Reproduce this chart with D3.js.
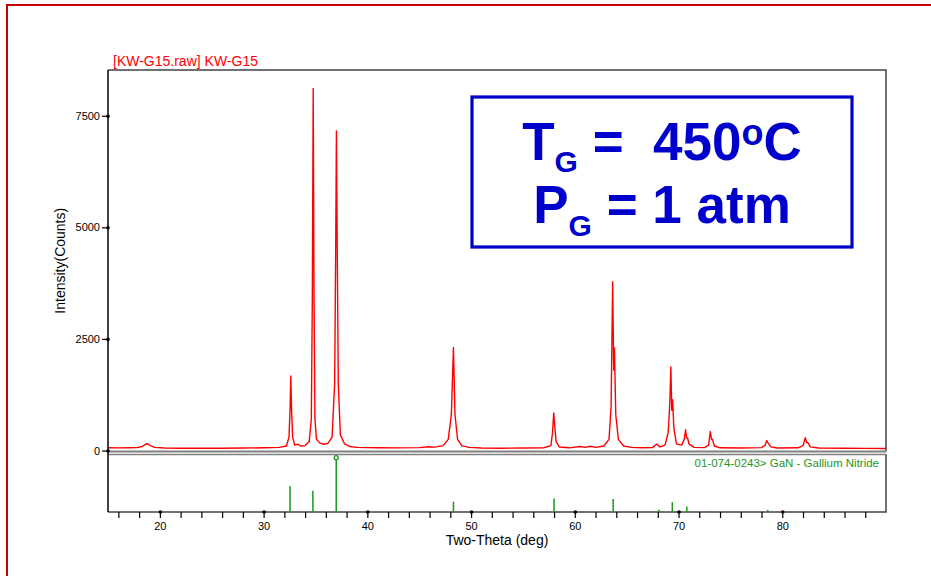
<!DOCTYPE html>
<html>
<head>
<meta charset="utf-8">
<script src="https://cdn.jsdelivr.net/npm/d3@7"></script>
<style>
body{margin:0;background:#fff;}
svg{display:block;font-family:"Liberation Sans",Arial,sans-serif;}
</style>
</head>
<body>
<svg width="931" height="576"></svg>
<script>
// scan: [two-theta, counts]
var scanPoints = [
	[15.0,62],[16.0,58],[17.0,60],[17.8,65],[18.3,90],[18.6,140],[18.8,150],[19.1,110],[19.5,70],[20.5,55],
	[22,52],[24,50],[26,52],[28,55],[30,60],[31.5,70],[32.2,100],[32.45,300],[32.55,900],[32.62,1670],
	[32.7,900],[32.8,300],[33.0,120],[33.3,140],[33.6,100],[34.0,110],[34.4,200],[34.6,700],[34.7,3500],[34.78,8110],
	[34.86,3500],[34.95,700],[35.1,250],[35.4,170],[35.8,140],[36.2,160],[36.6,300],[36.85,1500],[36.95,4500],[37.02,7160],
	[37.1,4500],[37.2,1500],[37.4,350],[37.8,150],[38.3,90],[39,70],[41,60],[43,58],[45,65],[45.9,85],
	[46.5,75],[47.3,110],[47.8,250],[48.1,800],[48.3,2310],[48.45,800],[48.7,250],[49.1,110],[49.8,70],[51,55],
	[53,52],[55,55],[57,62],[57.7,110],[57.85,400],[57.97,840],[58.08,510],[58.2,200],[58.5,80],[59.5,60],
	[60.5,90],[61,70],[61.5,95],[62,70],[62.8,100],[63.3,250],[63.5,1000],[63.65,3780],[63.75,1800],[63.82,2300],
	[63.95,800],[64.2,250],[64.7,100],[65.5,70],[66.5,60],[67.5,65],[67.9,145],[68.2,80],[68.7,120],[69.0,400],
	[69.15,1000],[69.26,1870],[69.35,900],[69.43,1140],[69.55,500],[69.8,150],[70.3,120],[70.55,250],[70.68,465],[70.78,280],
	[70.88,280],[71.0,150],[71.5,70],[72.5,65],[72.9,120],[73.06,425],[73.18,250],[73.27,255],[73.45,100],[74,60],
	[76,55],[78,65],[78.35,120],[78.5,225],[78.65,160],[78.9,80],[79.5,55],[81.5,60],[82.0,110],[82.22,285],
	[82.35,180],[82.45,180],[82.7,80],[83.5,55],[86,50],[88,48],[90,45]
];

// GaN reference sticks: [two-theta, relative intensity]
var refPeaks = [
	[32.55,48],[34.75,39],[37.0,100],[48.3,19],[58.0,25],[63.7,24],
	[68.1,4],[69.4,18],[70.8,10],[73.2,2],[78.6,4],[82.4,2]
];

var yTickValues = [0, 2500, 5000, 7500];
var xTickLabels = [20, 30, 40, 50, 60, 70, 80];
var chartTitle = "[KW-G15.raw] KW-G15";
var refLabel = "01-074-0243> GaN - Gallium Nitride";
var xTitle = "Two-Theta (deg)";
var yTitle = "Intensity(Counts)";

var L = 108, R = 886, T = 70, mainB = 451.5, refT = 454.5, refB = 512;

var mySvg = d3.select("svg");

var x = d3.scaleLinear().domain([15, 90]).range([L, R]);
var y = d3.scaleLinear().domain([0, 8525]).range([450.5, T]);
var yRef = d3.scaleLinear().domain([0, 100]).range([refB, 457.7]);

// red page frame
mySvg.append("rect")
	.attr("x", 7).attr("y", 5).attr("width", 1000).attr("height", 1000)
	.attr("fill", "none").attr("stroke", "#c80000").attr("stroke-width", 2);

mySvg.append("defs").append("clipPath").attr("id", "clip")
	.append("rect").attr("x", L).attr("y", T).attr("width", R - L).attr("height", mainB - T);

// scan line
var line = d3.line().x(d => x(d[0])).y(d => y(d[1]));
mySvg.append("path")
	.datum(scanPoints)
	.attr("clip-path", "url(#clip)")
	.attr("d", line)
	.attr("fill", "none")
	.attr("stroke", "#ff0000")
	.attr("stroke-width", 1.4)
	.attr("stroke-linejoin", "round");

// panel borders
mySvg.append("path")
	.attr("d", "M" + L + "," + T + "H" + R + "V" + mainB)
	.attr("fill", "none").attr("stroke", "#444").attr("stroke-width", 1.5);
mySvg.append("line")
	.attr("x1", L).attr("x2", R).attr("y1", mainB).attr("y2", mainB)
	.attr("stroke", "#808080").attr("stroke-width", 2);
mySvg.append("line")
	.attr("x1", L).attr("x2", R).attr("y1", refT).attr("y2", refT)
	.attr("stroke", "#808080").attr("stroke-width", 1.5);
mySvg.append("path")
	.attr("d", "M" + R + "," + refT + "V" + refB + "H" + L)
	.attr("fill", "none").attr("stroke", "#444").attr("stroke-width", 1.5);
mySvg.append("line")
	.attr("x1", L).attr("x2", L).attr("y1", T).attr("y2", refB)
	.attr("stroke", "#000").attr("stroke-width", 1.5);

// reference sticks
var green = "#1e961e";
mySvg.append("g").selectAll("line")
	.data(refPeaks)
	.enter()
	.append("line")
	.attr("x1", d => x(d[0])).attr("x2", d => x(d[0]))
	.attr("y1", yRef(0)).attr("y2", d => yRef(d[1]))
	.attr("stroke", green).attr("stroke-width", 1.5);
mySvg.append("circle")
	.attr("cx", x(refPeaks[2][0])).attr("cy", yRef(refPeaks[2][1]))
	.attr("r", 2).attr("fill", "#fff").attr("stroke", green).attr("stroke-width", 1.3);

mySvg.append("text")
	.attr("x", 879).attr("y", 467)
	.attr("text-anchor", "end")
	.attr("font-size", 11.5)
	.attr("fill", green)
	.text(refLabel);

// y axis
var yAxis = d3.axisLeft(y).tickValues(yTickValues).tickSize(6).tickPadding(2).tickFormat(d3.format("d"));
var yAxisGroup = mySvg.append("g").attr("transform", "translate(" + L + ",0)").call(yAxis);
yAxisGroup.select(".domain").remove();
yAxisGroup.selectAll("line").attr("stroke", "#000").attr("stroke-width", 1.2);
yAxisGroup.selectAll("text").attr("font-size", 11).attr("font-family", null).attr("fill", "#000");
yAxisGroup.selectAll(".tick").append("circle").attr("r", 1.8).attr("fill", "#000");

// x axis, a tick every 2 deg, labels every 10
var xAxis = d3.axisBottom(x)
	.tickValues(d3.range(16, 90, 2))
	.tickSize(6).tickPadding(4)
	.tickFormat(d => xTickLabels.indexOf(d) >= 0 ? d : "");
var xAxisGroup = mySvg.append("g").attr("transform", "translate(0," + refB + ")").call(xAxis);
xAxisGroup.select(".domain").remove();
xAxisGroup.selectAll("line").attr("stroke", "#000").attr("stroke-width", 1.2);
xAxisGroup.selectAll("text").attr("font-size", 11).attr("font-family", null).attr("fill", "#000");
xAxisGroup.selectAll(".tick").filter(d => xTickLabels.indexOf(d) >= 0)
	.append("circle").attr("r", 1.8).attr("fill", "#000");

// titles
mySvg.append("text")
	.attr("x", 113).attr("y", 66)
	.attr("font-size", 14).attr("fill", "#ff0000")
	.text(chartTitle);
mySvg.append("text")
	.attr("x", (L + R) / 2).attr("y", 545)
	.attr("text-anchor", "middle").attr("font-size", 14)
	.text(xTitle);
mySvg.append("text")
	.attr("transform", "translate(65," + ((T + mainB) / 2) + ") rotate(-90)")
	.attr("text-anchor", "middle").attr("font-size", 14)
	.text(yTitle);

// growth conditions box
var blue = "#0000cc";
mySvg.append("rect")
	.attr("x", 472).attr("y", 97).attr("width", 380).attr("height", 150)
	.attr("fill", "#fff").attr("stroke", blue).attr("stroke-width", 3.2);

var cx = 662;
var t1 = mySvg.append("text")
	.attr("x", cx).attr("y", 160)
	.attr("text-anchor", "middle").attr("font-weight", "bold").attr("font-size", 53).attr("fill", blue);
t1.append("tspan").text("T");
t1.append("tspan").attr("font-size", 30).attr("dy", 12).text("G");
t1.append("tspan").attr("dy", -12).attr("xml:space", "preserve").style("white-space", "pre").text(" =  450");
t1.append("tspan").attr("font-size", 36).attr("dy", -15).text("o");
t1.append("tspan").attr("dy", 15).text("C");

var t2 = mySvg.append("text")
	.attr("x", cx).attr("y", 223)
	.attr("text-anchor", "middle").attr("font-weight", "bold").attr("font-size", 53).attr("fill", blue);
t2.append("tspan").text("P");
t2.append("tspan").attr("font-size", 30).attr("dy", 13).text("G");
t2.append("tspan").attr("dy", -13).text(" = 1 atm");
</script>
</body>
</html>
